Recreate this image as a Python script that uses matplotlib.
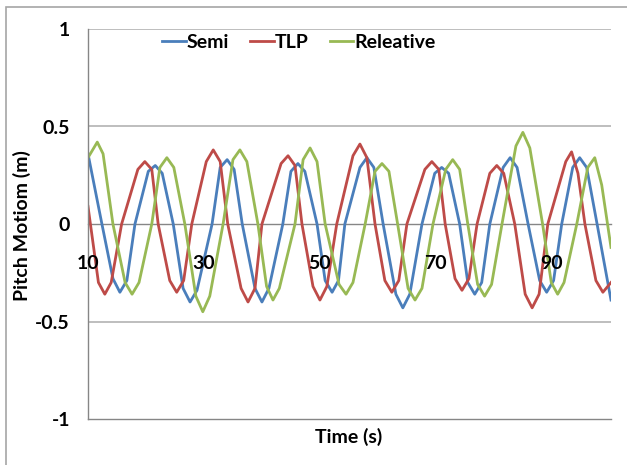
import matplotlib
matplotlib.use("Agg")
import matplotlib.pyplot as plt
from matplotlib.patches import Rectangle

plt.rcParams['font.family'] = ['Lato', 'DejaVu Sans']
plt.rcParams['font.weight'] = 'bold'

# Points (time in s, pitch in m)
semi_t = [10.0, 12.4, 14.3, 15.5, 16.7, 18.1, 20.4, 21.6, 22.8, 24.7, 26.4, 27.6, 28.8, 31.4,
          32.8, 34.0, 35.2, 36.6, 38.8, 40.0, 41.2, 43.6, 45.0, 46.2, 47.4, 49.5, 50.9, 52.1,
          53.2, 54.3, 56.9, 58.1, 59.3, 60.9, 63.1, 64.3, 65.5, 67.6, 69.8, 71.0, 72.2, 74.1,
          75.5, 76.7, 77.9, 79.3, 81.6, 82.8, 84.0, 85.9, 87.9, 89.1, 90.3, 91.7, 93.6, 94.8,
          96.0, 97.8, 100.2]
semi_v = [0.36, 0.0, -0.28, -0.35, -0.29, 0.0, 0.27, 0.30, 0.26, 0.0, -0.33, -0.40, -0.34, 0.0,
          0.29, 0.33, 0.28, 0.0, -0.33, -0.40, -0.33, 0.0, 0.27, 0.31, 0.27, 0.0, -0.29, -0.35,
          -0.29, 0.0, 0.29, 0.34, 0.29, 0.0, -0.36, -0.43, -0.36, 0.0, 0.26, 0.29, 0.26, 0.0,
          -0.30, -0.36, -0.30, 0.0, 0.29, 0.34, 0.29, 0.0, -0.29, -0.35, -0.29, 0.0, 0.29, 0.34,
          0.29, 0.0, -0.39]

tlp_t = [10.0, 11.8, 12.9, 14.0, 15.8, 18.6, 19.8, 21.0, 22.1, 24.1, 25.3, 26.5, 27.9, 30.4,
         31.6, 32.8, 34.1, 36.4, 37.6, 38.8, 40.0, 43.3, 44.5, 45.7, 46.9, 48.8, 50.0, 51.2,
         52.9, 55.7, 56.9, 58.1, 59.5, 61.2, 62.4, 63.6, 65.0, 68.1, 69.3, 70.5, 71.6, 73.3,
         74.5, 75.7, 77.1, 79.3, 80.5, 81.7, 83.6, 85.4, 86.6, 87.8, 89.3, 92.4, 93.4, 94.5,
         95.7, 97.6, 98.8, 100.2]
tlp_v = [0.09, -0.30, -0.36, -0.30, 0.0, 0.28, 0.32, 0.28, 0.0, -0.29, -0.35, -0.29, 0.0, 0.32,
         0.38, 0.32, 0.0, -0.33, -0.40, -0.33, 0.0, 0.31, 0.35, 0.30, 0.0, -0.32, -0.39, -0.32,
         0.0, 0.35, 0.41, 0.34, 0.0, -0.29, -0.35, -0.29, 0.0, 0.28, 0.32, 0.28, 0.0, -0.28,
         -0.34, -0.28, 0.0, 0.26, 0.30, 0.26, 0.0, -0.36, -0.43, -0.36, 0.0, 0.32, 0.37, 0.26,
         0.0, -0.29, -0.35, -0.30]

rel_t = [10.0, 11.6, 12.6, 14.3, 16.4, 17.6, 18.8, 21.0, 22.4, 23.6, 24.8, 26.7, 28.6, 29.8,
         31.0, 33.3, 35.0, 36.2, 37.4, 39.3, 40.8, 41.9, 43.0, 45.7, 47.1, 48.3, 49.5, 50.9,
         53.3, 54.5, 55.7, 57.8, 59.5, 60.7, 61.9, 63.4, 65.2, 66.4, 67.6, 69.5, 71.7, 72.9,
         74.1, 75.5, 77.2, 78.4, 79.6, 81.4, 83.8, 85.0, 86.2, 88.4, 89.9, 91.0, 92.1, 94.3,
         96.2, 97.4, 98.6, 100.2]
rel_v = [0.34, 0.42, 0.36, 0.0, -0.30, -0.36, -0.30, 0.0, 0.29, 0.34, 0.29, 0.0, -0.37, -0.45,
         -0.37, 0.0, 0.33, 0.38, 0.32, 0.0, -0.32, -0.39, -0.33, 0.0, 0.33, 0.39, 0.32, 0.0,
         -0.31, -0.36, -0.30, 0.0, 0.27, 0.31, 0.27, 0.0, -0.33, -0.39, -0.33, 0.0, 0.28, 0.33,
         0.28, 0.0, -0.31, -0.37, -0.31, 0.0, 0.40, 0.47, 0.39, 0.0, -0.30, -0.36, -0.30, 0.0,
         0.29, 0.34, 0.20, -0.12]

series_names = ['Semi', 'TLP', 'Releative']
colors = ['#4A7EBB', '#BE4B48', '#98B954']
x_ticks = [10, 30, 50, 70, 90]
y_ticks = [-1, -0.5, 0, 0.5, 1]
y_tick_labels = ['-1', '-0.5', '0', '0.5', '1']

W, H = 627, 465
fig = plt.figure(figsize=(W / 100, H / 100), dpi=100)
fig.patches.append(Rectangle((6 / W, -0.1), 1.2, 1 - 7 / H + 0.1, transform=fig.transFigure,
                             fill=False, edgecolor='#A6A6A6', linewidth=1.2))
ax = fig.add_axes([88 / W, (H - 419) / H, (611 - 88) / W, (419 - 29) / H])

for t, v, c, n in zip([semi_t, tlp_t, rel_t], [semi_v, tlp_v, rel_v], colors, series_names):
    ax.plot(t, v, color=c, lw=2.0, label=n, solid_joinstyle='round', zorder=2)

ax.set_xlim(10, 100.2)
ax.set_ylim(-1, 1)
ax.set_yticks(y_ticks)
ax.set_yticklabels(y_tick_labels)
ax.set_xticks(x_ticks)
ax.set_xticklabels([str(x) for x in x_ticks])

for s in ['top', 'right']:
    ax.spines[s].set_visible(False)
ax.spines['bottom'].set_position(('data', 0))
ax.spines['bottom'].set_color('#868686')
ax.spines['bottom'].set_linewidth(1.0)
ax.spines['left'].set_color('#868686')
ax.spines['left'].set_linewidth(1.0)
ax.xaxis.set_zorder(3)
ax.spines['bottom'].set_zorder(1)

for yv in [0.5, -0.5, 1]:
    ax.axhline(yv, color='#B3B3B3', lw=1.2, zorder=0)
ax.axhline(-1, color='#868686', lw=1.0, zorder=0, clip_on=False)

ax.tick_params(axis='both', length=0, labelsize=14)
ax.tick_params(axis='y', pad=13)
ax.tick_params(axis='x', pad=22)
for lab in ax.get_xticklabels() + ax.get_yticklabels():
    lab.set_fontweight('bold')

fig.text(22 / W, 1 - 226 / H, 'Pitch Motiom (m)', rotation=90, ha='center', va='center',
         fontsize=14, fontweight='bold')
fig.text(349 / W, 1 - 437 / H, 'Time (s)', ha='center', va='center', fontsize=14, fontweight='bold')

fig.legend(loc='center', bbox_to_anchor=(299 / W, 1 - 42 / H), ncol=3, frameon=False,
           handlelength=1.2, handletextpad=0.05, columnspacing=1.1,
           prop={'weight': 'bold', 'size': 14})

fig.savefig('out.png', dpi=100)
